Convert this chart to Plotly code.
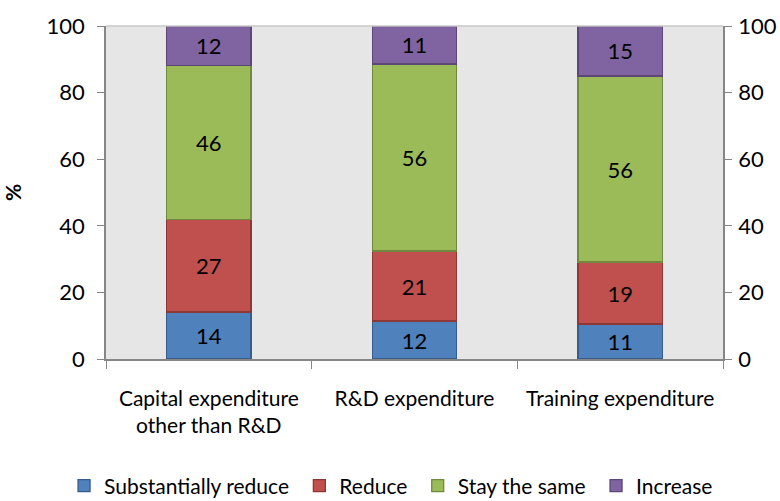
import plotly.graph_objects as go

categories = ["Capital expenditure<br>other than R&D", "R&D expenditure", "Training expenditure"]

substantially_reduce = [14.1, 11.4, 10.5]
reduce = [27.7, 21.0, 18.6]
stay_the_same = [46.4, 56.2, 55.9]
increase = [11.8, 11.4, 15.0]

substantially_reduce_lbl = ["14", "12", "11"]
reduce_lbl = ["27", "21", "19"]
stay_the_same_lbl = ["46", "56", "56"]
increase_lbl = ["12", "11", "15"]

y_ticks = [0, 20, 40, 60, 80, 100]

FONT = "Lato, Calibri, 'Open Sans', sans-serif"
AXIS_GRAY = "#868686"
PAD = "\u00a0"  # a little extra room after each legend entry

series = [
    ("Substantially reduce", substantially_reduce, substantially_reduce_lbl, "#4F81BD", "#385D8A"),
    ("Reduce", reduce, reduce_lbl, "#C0504D", "#8C3836"),
    ("Stay the same", stay_the_same, stay_the_same_lbl, "#9BBB59", "#71893F"),
    ("Increase", increase, increase_lbl, "#8064A2", "#5C4776"),
]

fig = go.Figure()
for name, vals, lbls, fill, edge in series:
    fig.add_trace(go.Bar(
        x=categories, y=vals, name=name + PAD,
        text=lbls, textposition="inside", insidetextanchor="middle",
        textangle=0, constraintext="none",
        textfont=dict(family=FONT, size=22, color="black"),
        marker=dict(color=fill, line=dict(color=edge, width=1.3)),
        hoverinfo="name+y",
    ))

fig.update_layout(
    width=780, height=501,
    barmode="stack", bargap=0.59,
    paper_bgcolor="white", plot_bgcolor="#E6E6E6",
    margin=dict(l=106, r=57, t=26, b=142, autoexpand=False),
    font=dict(family=FONT, size=22, color="black"),
    showlegend=True,
    legend=dict(
        orientation="h", x=-0.068, xanchor="left", y=-0.32, yanchor="top",
        font=dict(family=FONT, size=21), itemwidth=30, traceorder="normal",
        tracegroupgap=0,
    ),
    xaxis=dict(
        automargin=False,
        showline=True, linecolor=AXIS_GRAY, linewidth=1.5,
        ticks="outside", tickson="boundaries", ticklen=8, tickcolor=AXIS_GRAY,
        tickfont=dict(family=FONT, size=21), ticklabelstandoff=20,
        showgrid=False, zeroline=False,
    ),
    yaxis=dict(
        automargin=False,
        range=[0, 100], tickvals=y_ticks, showgrid=False, zeroline=False,
        showline=True, linecolor=AXIS_GRAY, linewidth=1.5,
        ticks="outside", ticklen=7, tickcolor=AXIS_GRAY,
        tickfont=dict(family=FONT, size=22), ticklabelstandoff=8,
        title=dict(text="<b>%</b>", font=dict(family=FONT, size=21), standoff=46),
    ),
    yaxis2=dict(
        automargin=False,
        range=[0, 100], tickvals=y_ticks, overlaying="y", side="right",
        showgrid=False, zeroline=False,
        showline=True, linecolor=AXIS_GRAY, linewidth=1.5,
        ticks="outside", ticklen=7, tickcolor=AXIS_GRAY,
        tickfont=dict(family=FONT, size=22), ticklabelstandoff=2,
    ),
)

# invisible trace so the right-hand axis is drawn
fig.add_trace(go.Scatter(x=[categories[0]], y=[0], yaxis="y2", mode="markers",
                         marker=dict(opacity=0), showlegend=False, hoverinfo="skip"))

# light top edge of the plot area
fig.add_shape(type="line", xref="paper", yref="paper", x0=0, x1=1, y0=1, y1=1,
              line=dict(color="#C8C8C8", width=1.5))

# drop the browser's default 8px body margin so the figure sits at the origin
fig.write_html("out.html", config={"displayModeBar": False},
               post_script="document.body.style.margin='0';")
